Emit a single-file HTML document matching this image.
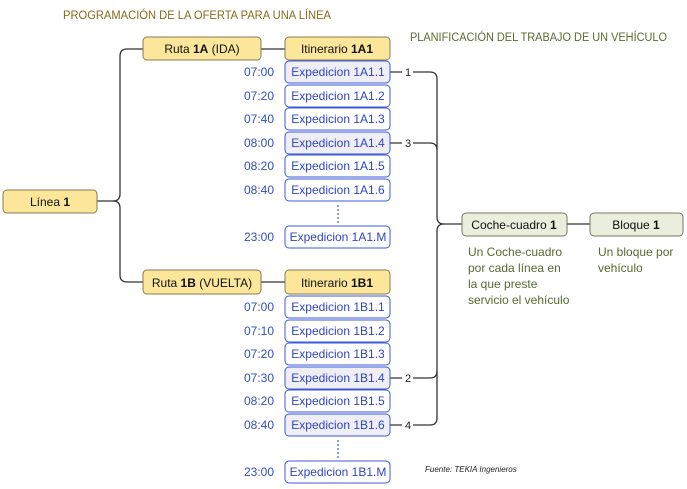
<!DOCTYPE html>
<html><head><meta charset="utf-8"><style>
html,body{margin:0;padding:0;background:#fff;}
svg{display:block;font-family:"Liberation Sans",sans-serif;}
</style></head><body>
<svg width="687" height="489" viewBox="0 0 687 489">
<g font-size="11.5">
<text x="63" y="19" fill="#8a6a1c" font-size="11.5" textLength="268" lengthAdjust="spacingAndGlyphs">PROGRAMACIÓN DE LA OFERTA PARA UNA LÍNEA</text>
<text x="410" y="41" fill="#5a6b30" font-size="11.5" textLength="257" lengthAdjust="spacingAndGlyphs">PLANIFICACIÓN DEL TRABAJO DE UN VEHÍCULO</text>
</g>
<g fill="none" stroke="#333" stroke-width="1.3">
<path d="M97 201 H113 Q120 201 120 194 V56 Q120 49 127 49 H143"/>
<path d="M113 201 Q120 201 120 208 V275 Q120 282 127 282 H143"/>
<path d="M261 49 H285 M261 282 H285"/>
<path d="M390 72 H402 M413 72 H430 Q437 72 437 79 V217 Q437 224 444 224 H462"/>
<path d="M390 143 H402 M413 143 H430 Q437 143 437 150"/>
<path d="M444 224 Q437 224 437 231 V418 Q437 425 430 425 H413 M402 425 H390"/>
<path d="M437 371 Q437 378 430 378 H413 M402 378 H390"/>
<path d="M567 224 H590"/>
</g>
<g font-size="11" fill="#222" text-anchor="middle">
<text x="408" y="76">1</text><text x="408" y="147">3</text>
<text x="408" y="382">2</text><text x="408" y="429">4</text>
</g>
<g stroke="#8a7a55" stroke-width="1" fill="#fbe69a">
<rect x="3" y="190" width="94" height="23" rx="4"/>
<rect x="143" y="37" width="118" height="23" rx="4"/>
<rect x="285" y="37" width="105" height="23" rx="4"/>
<rect x="143" y="270" width="118" height="24" rx="4"/>
<rect x="285" y="270" width="105" height="24" rx="4"/>
</g>
<g stroke="#7a7560" stroke-width="1" fill="#eaeedc">
<rect x="462" y="213" width="105" height="23" rx="4"/>
<rect x="590" y="213" width="93" height="23" rx="4"/>
</g>
<g font-size="12" fill="#111" text-anchor="middle">
<text x="50" y="206">Línea <tspan font-weight="bold">1</tspan></text>
<text x="202" y="53">Ruta <tspan font-weight="bold">1A</tspan> (IDA)</text>
<text x="337" y="53">Itinerario <tspan font-weight="bold">1A1</tspan></text>
<text x="202" y="287">Ruta <tspan font-weight="bold">1B</tspan> (VUELTA)</text>
<text x="337" y="287">Itinerario <tspan font-weight="bold">1B1</tspan></text>
<text x="514" y="229">Coche-cuadro <tspan font-weight="bold">1</tspan></text>
<text x="636" y="229">Bloque <tspan font-weight="bold">1</tspan></text>
</g>
<g stroke="#3a5ad8" stroke-width="1">
<rect x="285" y="61" width="105" height="22" rx="4" fill="#eeeef4"/>
<rect x="285" y="85" width="105" height="22" rx="4" fill="#fff"/>
<rect x="285" y="108" width="105" height="22" rx="4" fill="#fff"/>
<rect x="285" y="132" width="105" height="22" rx="4" fill="#eeeef4"/>
<rect x="285" y="155" width="105" height="22" rx="4" fill="#fff"/>
<rect x="285" y="179" width="105" height="22" rx="4" fill="#fff"/>
<rect x="285" y="226" width="105" height="22" rx="4" fill="#fff"/>
<rect x="285" y="296" width="105" height="22" rx="4" fill="#fff"/>
<rect x="285" y="320" width="105" height="22" rx="4" fill="#fff"/>
<rect x="285" y="343" width="105" height="22" rx="4" fill="#fff"/>
<rect x="285" y="367" width="105" height="22" rx="4" fill="#eeeef4"/>
<rect x="285" y="390" width="105" height="22" rx="4" fill="#fff"/>
<rect x="285" y="414" width="105" height="22" rx="4" fill="#eeeef4"/>
<rect x="285" y="461" width="105" height="22" rx="4" fill="#fff"/>
</g>
<g font-size="12" fill="#3044c8" text-anchor="middle">
<text x="338" y="76">Expedicion 1A1.1</text>
<text x="338" y="100">Expedicion 1A1.2</text>
<text x="338" y="123">Expedicion 1A1.3</text>
<text x="338" y="147">Expedicion 1A1.4</text>
<text x="338" y="170">Expedicion 1A1.5</text>
<text x="338" y="194">Expedicion 1A1.6</text>
<text x="338" y="241">Expedicion 1A1.M</text>
<text x="338" y="311">Expedicion 1B1.1</text>
<text x="338" y="335">Expedicion 1B1.2</text>
<text x="338" y="358">Expedicion 1B1.3</text>
<text x="338" y="382">Expedicion 1B1.4</text>
<text x="338" y="405">Expedicion 1B1.5</text>
<text x="338" y="429">Expedicion 1B1.6</text>
<text x="338" y="476">Expedicion 1B1.M</text>
</g>
<g font-size="12" fill="#3050c0" text-anchor="end">
<text x="274" y="76">07:00</text><text x="274" y="100">07:20</text>
<text x="274" y="123">07:40</text><text x="274" y="147">08:00</text>
<text x="274" y="170">08:20</text><text x="274" y="194">08:40</text>
<text x="274" y="241">23:00</text>
<text x="274" y="311">07:00</text><text x="274" y="335">07:10</text>
<text x="274" y="358">07:20</text><text x="274" y="382">07:30</text>
<text x="274" y="405">08:20</text><text x="274" y="429">08:40</text>
<text x="274" y="476">23:00</text>
</g>
<g fill="#3a5ad8">
<circle cx="338" cy="206" r="0.9"/><circle cx="338" cy="210" r="0.9"/><circle cx="338" cy="214" r="0.9"/><circle cx="338" cy="218" r="0.9"/><circle cx="338" cy="222" r="0.9"/>
<circle cx="338" cy="441" r="0.9"/><circle cx="338" cy="445" r="0.9"/><circle cx="338" cy="449" r="0.9"/><circle cx="338" cy="453" r="0.9"/><circle cx="338" cy="457" r="0.9"/>
</g>
<g font-size="12" fill="#556b2f">
<text x="468" y="256">Un Coche-cuadro</text>
<text x="468" y="272">por cada línea en</text>
<text x="468" y="288">la que preste</text>
<text x="468" y="304">servicio el vehículo</text>
<text x="598" y="256">Un bloque por</text>
<text x="598" y="272">vehículo</text>
</g>
<text x="425" y="472" font-size="8" font-style="italic" fill="#222">Fuente: TEKIA Ingenieros</text>
</svg>
</body></html>
